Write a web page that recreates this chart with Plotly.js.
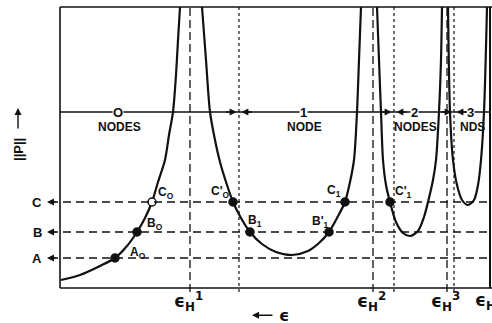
<!DOCTYPE html>
<html><head><meta charset="utf-8">
<script src="https://cdn.plot.ly/plotly-3.0.1.min.js"></script>
<style>html,body{margin:0;padding:0;background:#fff}#chart{width:492px;height:323px}</style>
</head><body><div id="chart"></div>
<script>
// ---- data (ε in arbitrary units, ||P|| in arbitrary units) ----
var branch0X = [0.025, 0.5, 1.0, 1.375, 1.675, 1.925, 2.125, 2.3, 2.45, 2.625, 2.725, 2.825, 2.9, 2.95, 3.0];
var branch0Y = [0.2, 0.325, 0.55, 0.75, 1.05, 1.4, 1.75, 2.15, 2.65, 3.2, 3.825, 4.4, 5.325, 6.2, 7.025];
var branch1X = [3.55, 3.65, 3.75, 3.875, 4.0, 4.175, 4.325, 4.525, 4.75, 5.05, 5.4, 5.8, 6.2, 6.475, 6.725, 6.925, 7.125, 7.25, 7.35, 7.425, 7.475, 7.525];
var branch1Y = [7.025, 5.7, 4.4, 3.7, 3.15, 2.575, 2.15, 1.75, 1.4, 1.1, 0.9, 0.825, 0.925, 1.125, 1.4, 1.75, 2.15, 2.65, 3.2, 4.4, 5.7, 7.025];
var branch2X = [7.925, 7.975, 8.025, 8.075, 8.15, 8.25, 8.4, 8.575, 8.75, 8.95, 9.1, 9.2, 9.325, 9.4, 9.475, 9.525, 9.55];
var branch2Y = [7.025, 5.7, 4.4, 3.2, 2.575, 2.15, 1.65, 1.375, 1.3, 1.425, 1.775, 2.15, 2.7, 3.2, 4.4, 5.7, 7.025];
var branch3X = [9.7, 9.75, 9.825, 9.925, 10.05, 10.2, 10.35, 10.45, 10.525, 10.6, 10.675];
var branch3Y = [7.025, 4.4, 3.2, 2.575, 2.2, 2.075, 2.2, 2.575, 3.2, 4.4, 7.025];

var levelNames = ['C', 'B', 'A'];
var levelValues = [2.15, 1.4, 0.75];

var hX = [3.25, 7.825, 9.675];          // ε_H^1, ε_H^2, ε_H^3
var hLabels = ['1', '2', '3'];
var nodeBoundX = [4.475, 8.35, 9.85];   // node-count boundaries
var nodeLineY = 4.4;
var nodeCounts = ['O', '1', '2', '3'];
var nodeWords = ['NODES', 'NODE', 'NODES', 'NDS'];
var nodeLabelX = [1.45, 6.075, 8.85, 10.27];

var ptNames = ['A<sub>O</sub>', 'B<sub>O</sub>', 'C<sub>O</sub>', "C'<sub>O</sub>", 'B<sub>1</sub>', "B'<sub>1</sub>", 'C<sub>1</sub>', "C'<sub>1</sub>"];
var ptX = [1.375, 1.925, 2.3, 4.325, 4.75, 6.725, 7.125, 8.25];
var ptY = [0.75, 1.4, 2.15, 2.15, 1.4, 1.4, 2.15, 2.15];
var ptOpen = [false, false, true, false, false, false, false, false];
var ptLabelX = [1.95, 2.375, 2.65, 4.0, 4.875, 6.5, 6.85, 8.575];
var ptLabelY = [0.875, 1.6, 2.375, 2.4, 1.675, 1.65, 2.425, 2.4];

// ---- figure ----
var FONT = 'Liberation Sans, Arial, sans-serif';
var INK = '#111';
var X0 = 0, X1 = 10.8, Y0 = 0, Y1 = 7.025;

var traces = [];
[[branch0X, branch0Y], [branch1X, branch1Y], [branch2X, branch2Y], [branch3X, branch3Y]].forEach(function (b) {
  traces.push({x: b[0], y: b[1], mode: 'lines', line: {color: INK, width: 2.2, shape: 'spline', smoothing: 0.8}, hoverinfo: 'skip', showlegend: false});
});
traces.push({
  x: ptX, y: ptY, mode: 'markers', showlegend: false, hoverinfo: 'skip',
  marker: {size: 8, color: ptOpen.map(function (o) { return o ? 'white' : INK; }), line: {color: INK, width: 1.5}}
});

var shapes = [];
function seg(x0, y0, x1, y1, w, dash) {
  shapes.push({type: 'line', xref: 'x', yref: 'y', x0: x0, y0: y0, x1: x1, y1: y1, line: {color: INK, width: w, dash: dash || 'solid'}});
}
// frame
seg(X0, Y0, X0, Y1, 1.6);
seg(X0, Y0, 12, Y0, 1.6);
seg(X0, Y1, 12, Y1, 1.6);
seg(10.75, Y0, 10.75, Y1, 2);
// level lines
levelValues.forEach(function (v) { seg(-0.25, v, 12, v, 1.3, '8px,5px'); });
// ε_H lines
hX.forEach(function (x) { seg(x, -0.1, x, Y1, 1.3, '8px,4px'); });
nodeBoundX.forEach(function (x) { seg(x, -0.1, x, Y1, 1.2, '3px,3px'); });
// node line
seg(X0, nodeLineY, 10.75, nodeLineY, 1.3);

var ann = [];
function txt(x, y, t, size, extra) {
  var a = {x: x, y: y, xref: 'x', yref: 'y', text: t, showarrow: false, font: {family: FONT, size: size, color: INK}};
  for (var k in extra) a[k] = extra[k];
  ann.push(a);
}
function arrow(x, y, ax, ay) {
  ann.push({x: x, y: y, xref: 'x', yref: 'y', ax: ax, ay: ay, text: '', showarrow: true, arrowhead: 2, arrowsize: 1, arrowwidth: 1.4, arrowcolor: INK});
}
levelNames.forEach(function (n, i) {
  txt(-0.575, levelValues[i], '<b>' + n + '</b>', 13);
  arrow(-0.325, levelValues[i], 10, 0);
});
var EPS = 'DejaVu Sans, sans-serif';
hX.forEach(function (x, i) {
  txt(x - 0.05, -0.33, '<b>ϵ<sub>H</sub><sup>' + hLabels[i] + '</sup></b>', 17, {font: {family: EPS, size: 17, color: INK}});
});
txt(10.63, -0.33, '<b>ϵ<sub>H</sub></b>', 17, {font: {family: EPS, size: 17, color: INK}});
txt(5.6, -0.68, '<b>ϵ</b>', 16, {font: {family: EPS, size: 16, color: INK}});
arrow(4.8, -0.68, 22, 0);
txt(-1.05, 3.45, '<b>||P||</b>', 13, {textangle: -90});
arrow(-1.05, 4.5, 0, 22);
nodeCounts.forEach(function (c, i) {
  txt(nodeLabelX[i], nodeLineY, '<b>' + c + '</b>', 13, {bgcolor: 'white', borderpad: 0});
  txt(nodeLabelX[i] + 0.03, nodeLineY - 0.37, '<b>' + nodeWords[i] + '</b>', 12);
});
nodeBoundX.forEach(function (x) {
  arrow(x - 0.06, nodeLineY, -12, 0);
  arrow(x + 0.06, nodeLineY, 12, 0);
});
ptNames.forEach(function (n, i) {
  txt(ptLabelX[i], ptLabelY[i], '<b>' + n + '</b>', 12);
});

var layout = {
  width: 492, height: 323,
  margin: {l: 0, r: 0, t: 0, b: 0},
  paper_bgcolor: 'white', plot_bgcolor: 'white',
  xaxis: {range: [-1.5, 10.8], visible: false, fixedrange: true},
  yaxis: {range: [-0.875, 7.2], visible: false, fixedrange: true},
  shapes: shapes, annotations: ann, showlegend: false
};
Plotly.newPlot('chart', traces, layout, {staticPlot: true, displayModeBar: false});
</script></body></html>
